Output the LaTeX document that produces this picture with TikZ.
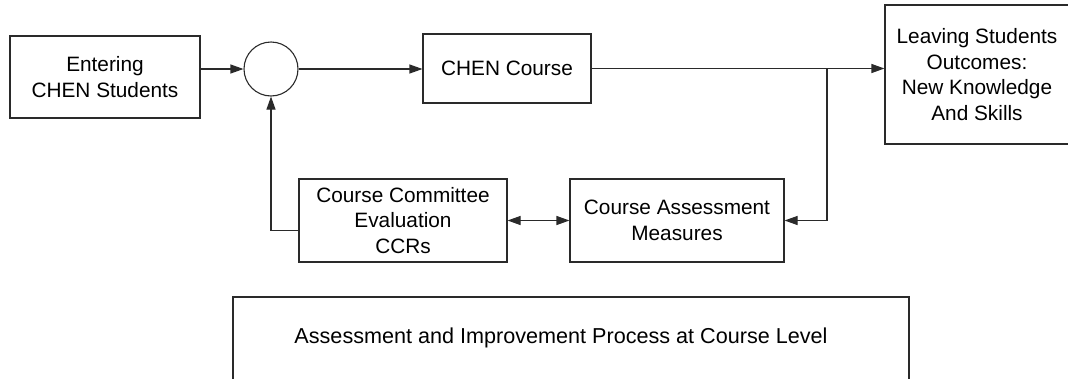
\documentclass[tikz,border=0pt]{standalone}
\usepackage{fontspec}
\setmainfont{Liberation Sans}
\usetikzlibrary{arrows.meta}
\definecolor{ink}{HTML}{2A2A2A}
\tikzset{
  box/.style={draw=ink, line width=1.1pt, rectangle, inner sep=0pt, align=center,
    font=\fontsize{20.8}{25.5}\selectfont, text=black},
  conn/.style={draw=ink, line width=1.1pt},
  arr/.style={conn, -{Triangle[length=13pt,width=9pt]}},
  darr/.style={conn, {Triangle[length=13pt,width=9pt]}-{Triangle[length=13pt,width=9pt]}},
}
\begin{document}
\begin{tikzpicture}[x=1pt,y=-1pt]
\useasboundingbox (0,0) rectangle (1068,378);
\node[box, minimum width=190pt, minimum height=82pt] (enter) at (105,77) {Entering\\CHEN Students};
\node[draw=ink, line width=1.1pt, circle, minimum size=54pt, inner sep=0pt] (circ) at (271,69) {};
\node[box, minimum width=168pt, minimum height=69pt] (course) at (507,68.5) {CHEN Course};
\node[box, minimum width=188pt, minimum height=139pt] (leave) at (979,74.5) {\hspace*{-4pt}Leaving Students\\\hspace*{-4pt}Outcomes:\\\hspace*{-4pt}New Knowledge\\\hspace*{-4pt}And Skills};
\node[box, minimum width=208pt, minimum height=83pt] (comm) at (403,220.5) {Course Committee\\Evaluation\\CCRs};
\node[box, minimum width=214pt, minimum height=83pt] (assess) at (677,220.5) {Course Assessment\\Measures};
% bottom open box
\coordinate (bl) at (233,400);
\coordinate (tl) at (233,297);
\coordinate (tr) at (909,297);
\coordinate (br) at (909,400);
\draw[conn] (bl) -- (tl) -- (tr) -- (br);
\node[font=\fontsize{21.6}{26}\selectfont, inner sep=0pt] (title) at (561,338) {Assessment and Improvement Process at Course Level};
% connectors
\draw[arr] (enter.east |- circ.west) -- (circ.west);
\draw[arr] (circ.east) -- (course.west |- circ.east);
\draw[arr] (course.east) -- (course.east -| leave.west);
\coordinate (split) at (827,68.5);
\draw[arr] (split) -- (split |- assess.east) -- (assess.east);
\draw[darr] (comm.east) -- (assess.west);
\draw[arr] ([yshift=-10pt]comm.west) -| (circ.south);
\end{tikzpicture}
\end{document}
